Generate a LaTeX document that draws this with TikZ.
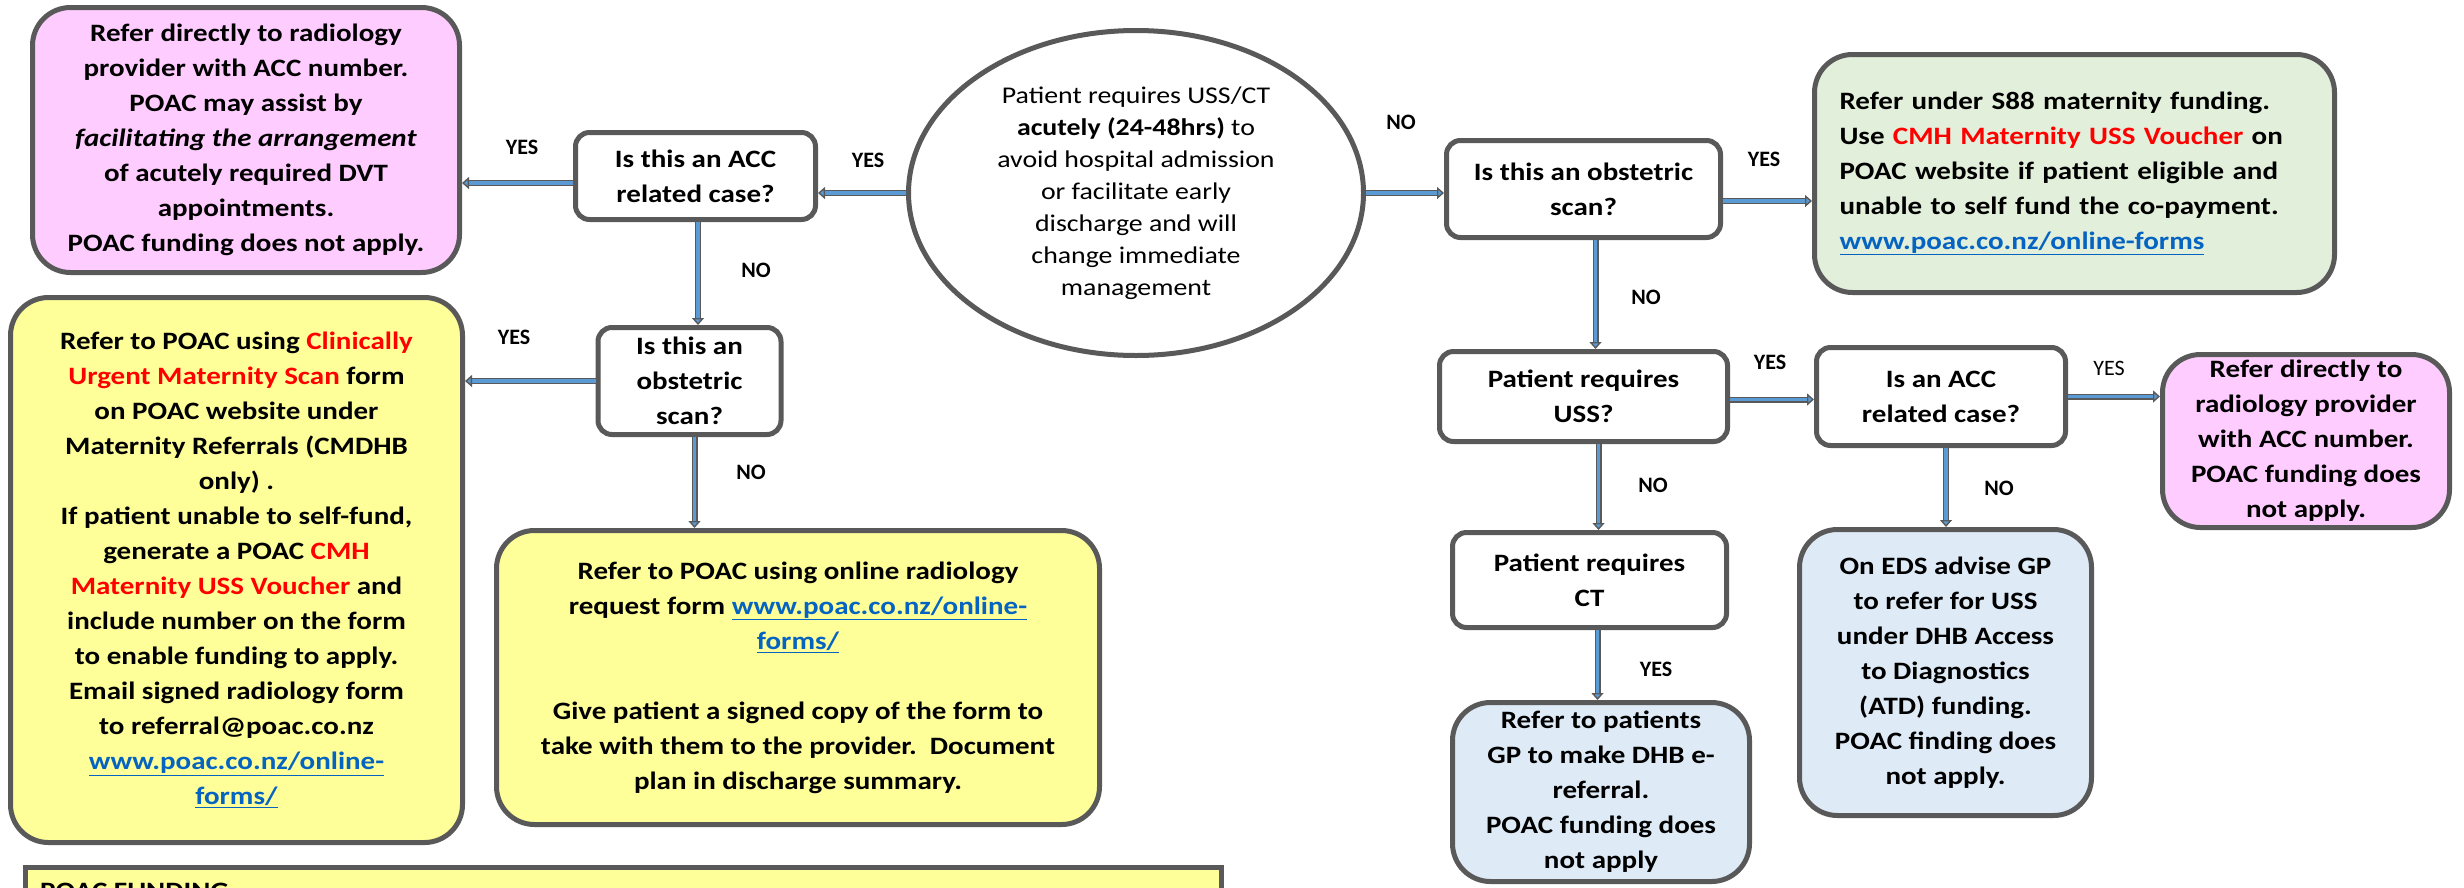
\documentclass[tikz,border=0pt]{standalone}
\usepackage{fontspec}
\setmainfont{Carlito}[FakeStretch=1.16]
\newfontfamily\labfont{Carlito}
\usetikzlibrary{arrows.meta,shapes.geometric,calc}
\definecolor{bord}{HTML}{595959}
\definecolor{pinkf}{HTML}{FFCCFF}
\definecolor{yellf}{HTML}{FFFF99}
\definecolor{greenf}{HTML}{E2EFDA}
\definecolor{bluef}{HTML}{DEEBF7}
\definecolor{redt}{HTML}{FF0000}
\definecolor{linkb}{HTML}{0563C1}
\definecolor{arrblue}{HTML}{5B9BD5}
\newcommand{\rtxt}[1]{\textcolor{redt}{#1}}
\newcommand{\lnk}[1]{\textcolor{linkb}{\underline{#1}}}
\begin{document}
\begin{tikzpicture}[x=1pt,y=-1pt,
  box/.style={draw=bord, line width=5pt, rounded corners=14pt, fill=white, inner sep=0pt, align=center, font=\bfseries\fontsize{25}{35}\selectfont},
  res/.style={box, rounded corners=38pt},
  lab/.style={font=\labfont\bfseries\fontsize{22}{26}\selectfont, inner sep=0pt},
  labr/.style={font=\labfont\fontsize{22}{26}\selectfont, inner sep=0pt},
  arr/.style={draw=bord, line width=1.4pt, double=arrblue, double distance=3.2pt, -{Triangle[length=7pt,width=12pt,fill=arrblue]}},
]
\useasboundingbox (0,0) rectangle (2464,887);
\fill[white] (0,0) rectangle (2464,887);

% left side
\node[res, fill=pinkf, minimum width=427pt, minimum height=265pt] (pink1) at (246,140)
 {Refer directly to radiology\\provider with ACC number.\\POAC may assist by\\\textit{facilitating the arrangement}\\of acutely required DVT\\appointments.\\POAC funding does not apply.};
\node[box, minimum width=240pt, minimum height=87pt] (acc1) at (695.5,176) {Is this an ACC\\related case?};
\node[ellipse, draw=bord, line width=5pt, fill=white, minimum width=455pt, minimum height=325pt, inner sep=0pt, align=center, font=\fontsize{24}{32}\selectfont] (circ) at (1136,193)
 {Patient requires USS/CT\\\textbf{acutely (24-48hrs)} to\\avoid hospital admission\\or facilitate early\\discharge and will\\change immediate\\management};
\node[box, minimum width=183pt, minimum height=107pt] (lobst) at (689.5,381) {Is this an\\obstetric\\scan?};
\node[res, fill=yellf, minimum width=452pt, minimum height=545pt] (y1) at (236.5,570)
 {Refer to POAC using \rtxt{Clinically}\\\rtxt{Urgent Maternity Scan} form\\on POAC website under\\Maternity Referrals (CMDHB\\only) .\\If patient unable to self-fund,\\generate a POAC \rtxt{CMH}\\\rtxt{Maternity USS Voucher} and\\include number on the form\\to enable funding to apply.\\Email signed radiology form\\to referral@poac.co.nz\\\lnk{www.poac.co.nz/online-}\\\lnk{forms/}};
\node[res, fill=yellf, minimum width=603pt, minimum height=294pt] (y2) at (798,677.5)
 {Refer to POAC using online radiology\\request form \lnk{www.poac.co.nz/online-}\\\lnk{forms/}\\[35pt]Give patient a signed copy of the form to\\take with them to the provider.\ \ Document\\plan in discharge summary.};
\node[draw=bord, line width=5pt, fill=yellf, minimum width=1196pt, minimum height=100pt, anchor=north west, inner sep=0pt] (fund) at (22.5,864.5) {};
\node[anchor=base west, inner sep=0pt, font=\bfseries\fontsize{25}{35}\selectfont] (fundtxt) at (40,899) {POAC FUNDING};

% right side
\node[box, minimum width=274pt, minimum height=97pt] (robst) at (1583.5,189) {Is this an obstetric\\scan?};
\node[res, fill=greenf, minimum width=520pt, minimum height=238pt, align=left, text width=470pt, inner xsep=25pt] (green) at (2074.5,173.5)
 {Refer under S88 maternity funding.\\Use \rtxt{CMH Maternity USS Voucher} on\\POAC website if patient eligible and\\unable to self fund the co-payment.\\\lnk{www.poac.co.nz/online-forms}};
\node[box, minimum width=288pt, minimum height=90pt] (uss) at (1583.5,396.5) {Patient requires\\USS?};
\node[box, minimum width=249pt, minimum height=98pt] (acc2) at (1941,396.5) {Is an ACC\\related case?};
\node[res, fill=pinkf, minimum width=287pt, minimum height=173pt] (pink2) at (2306,441)
 {Refer directly to\\radiology provider\\with ACC number.\\POAC funding does\\not apply.};
\node[res, fill=bluef, minimum width=292pt, minimum height=286pt] (eds) at (1945.5,672.5)
 {On EDS advise GP\\to refer for USS\\under DHB Access\\to Diagnostics\\(ATD) funding.\\POAC finding does\\not apply.};
\node[box, minimum width=274pt, minimum height=95pt] (ct) at (1589.5,580) {Patient requires\\CT};
\node[res, fill=bluef, minimum width=297pt, minimum height=179pt] (gp) at (1601,792)
 {Refer to patients\\GP to make DHB e-\\referral.\\POAC funding does\\not apply};

% connectors
\draw[arr] (circ.west) -- (circ.west -| acc1.east);
\draw[arr] ([yshift=-7pt]acc1.west) -- ([yshift=-7pt]acc1.west -| pink1.east);
\draw[arr] ([xshift=2.5pt]acc1.south) -- ([xshift=2.5pt]acc1.south |- lobst.north);
\draw[arr] (lobst.west) -- (lobst.west -| y1.east);
\draw[arr] ([xshift=5pt]lobst.south) -- ([xshift=5pt]lobst.south |- y2.north);
\draw[arr] (circ.east) -- (circ.east -| robst.west);
\draw[arr] ([yshift=-12pt]robst.east) -- ([yshift=-12pt]robst.east -| green.west);
\draw[arr] ([xshift=12pt]robst.south) -- ([xshift=12pt]robst.south |- uss.north);
\draw[arr] ([yshift=-3pt]uss.east) -- ([yshift=-3pt]uss.east -| acc2.west);
\draw[arr] (acc2.east) -- (acc2.east -| pink2.west);
\draw[arr] ([xshift=5pt]acc2.south) -- ([xshift=5pt]acc2.south |- eds.north);
\draw[arr] ([xshift=15pt]uss.south) -- ([xshift=15pt]uss.south |- ct.north);
\draw[arr] ([xshift=8pt]ct.south) -- ([xshift=8pt]ct.south |- gp.north);

% labels
\node[lab] (l1) at (868,160) {YES};
\node[lab] (l2) at (522,147) {YES};
\node[lab] (l3) at (756,270) {NO};
\node[lab] (l4) at (514,337) {YES};
\node[lab] (l5) at (751,472) {NO};
\node[lab] (l6) at (1401,122) {NO};
\node[lab] (l7) at (1764,159) {YES};
\node[lab] (l8) at (1646,297) {NO};
\node[lab] (l9) at (1770,362) {YES};
\node[labr] (l10) at (2109,368) {YES};
\node[lab] (l11) at (1999,488) {NO};
\node[lab] (l12) at (1653,485) {NO};
\node[lab] (l13) at (1656,669) {YES};
\end{tikzpicture}
\end{document}
